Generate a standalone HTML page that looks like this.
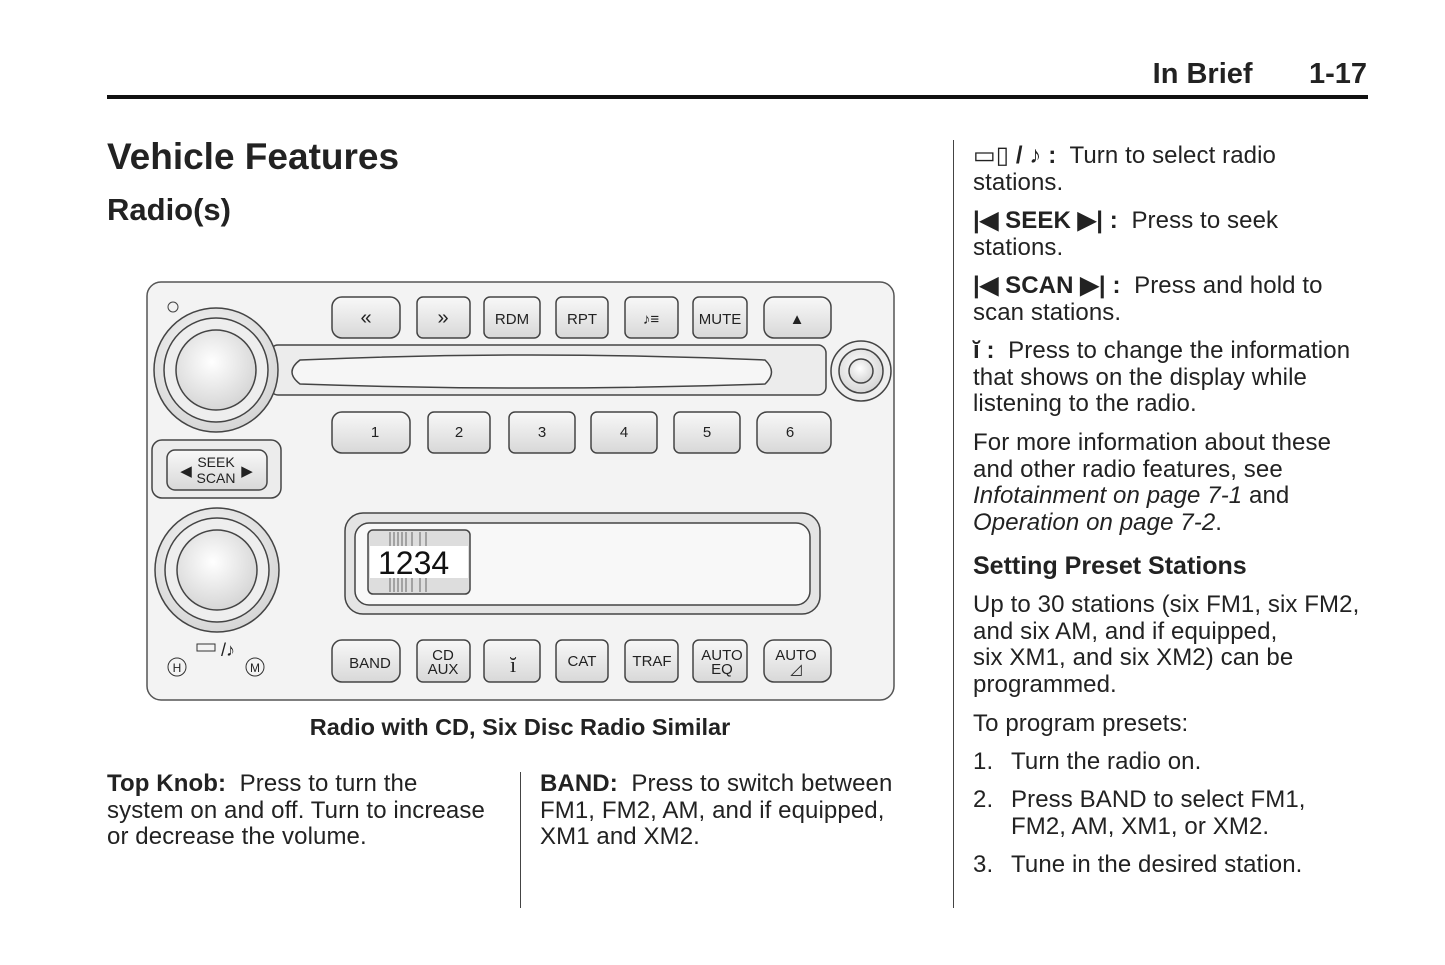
<!DOCTYPE html><html><head><style>
body{margin:0;width:1445px;height:965px;background:#fff;position:relative;font-family:"Liberation Sans",sans-serif;color:#222;overflow:hidden}
.a{position:absolute;white-space:nowrap}
.t{font-size:24px;line-height:26.6px;letter-spacing:0.1px}
b{font-weight:bold}
.n{display:inline-block;width:38px}
</style></head><body>
<div class="a" style="right:78px;top:58px;font-size:29px;font-weight:bold">In Brief&nbsp;&nbsp;&nbsp;&nbsp;&nbsp;&nbsp;&nbsp;1-17</div>
<div class="a" style="left:107px;top:95px;width:1261px;height:4px;background:#111"></div>
<div class="a" style="left:107px;top:136px;font-size:37px;font-weight:bold">Vehicle Features</div>
<div class="a" style="left:107px;top:192px;font-size:31px;font-weight:bold">Radio(s)</div>
<div class="a" style="left:520px;top:772px;width:1px;height:136px;background:#444"></div>
<div class="a" style="left:953px;top:140px;width:1px;height:768px;background:#444"></div>

<svg class="a" style="left:0;top:0" width="1445" height="965" font-family="Liberation Sans Narrow, Liberation Sans, sans-serif">
<defs><linearGradient id="g" x1="0" y1="0" x2="0" y2="1"><stop offset="0" stop-color="#f8f8f8"/><stop offset="1" stop-color="#d8d8d8"/></linearGradient>
<radialGradient id="k" cx="0.45" cy="0.4" r="0.6"><stop offset="0" stop-color="#fff"/><stop offset="1" stop-color="#d6d6d6"/></radialGradient></defs>
<rect x="147" y="282" width="747" height="418" rx="14" fill="#f3f3f3" stroke="#555" stroke-width="1.5"/>
<circle cx="173" cy="307" r="5" fill="none" stroke="#444"/>
<g fill="url(#g)" stroke="#444" stroke-width="1.5">
<rect x="332" y="297" width="68" height="41" rx="10"/><rect x="417" y="297" width="53" height="41" rx="6"/><rect x="484" y="297" width="56" height="41" rx="6"/><rect x="556" y="297" width="52" height="41" rx="6"/><rect x="625" y="297" width="53" height="41" rx="6"/><rect x="693" y="297" width="54" height="41" rx="6"/><rect x="764" y="297" width="67" height="41" rx="10"/>
<rect x="332" y="412" width="78" height="41" rx="10"/><rect x="428" y="412" width="62" height="41" rx="6"/><rect x="509" y="412" width="66" height="41" rx="6"/><rect x="591" y="412" width="66" height="41" rx="6"/><rect x="674" y="412" width="66" height="41" rx="6"/><rect x="757" y="412" width="74" height="41" rx="10"/>
<rect x="332" y="640" width="68" height="42" rx="10"/><rect x="417" y="640" width="53" height="42" rx="6"/><rect x="484" y="640" width="56" height="42" rx="6"/><rect x="556" y="640" width="52" height="42" rx="6"/><rect x="625" y="640" width="53" height="42" rx="6"/><rect x="693" y="640" width="54" height="42" rx="6"/><rect x="764" y="640" width="67" height="42" rx="10"/>
<rect x="270" y="345" width="556" height="50" rx="8" fill="#ececec"/>
<path d="M300 360 Q530 350 765 360 Q778 372 765 384 Q530 392 300 384 Q284 372 300 360Z" fill="#f6f6f6"/>
<rect x="152" y="440" width="129" height="58" rx="10" fill="#ececec"/><rect x="167" y="450" width="100" height="40" rx="8"/>
<rect x="345" y="513" width="475" height="101" rx="18" fill="#e4e4e4"/><rect x="355" y="523" width="455" height="82" rx="14" fill="#f8f8f8"/>
<rect x="368" y="530" width="102" height="64" rx="5" fill="#ddd"/>
</g>
<rect x="370" y="546" width="98" height="32" fill="#fff"/>
<g stroke="#666" stroke-width="1"><path d="M390 532v14M394 532v14M398 532v14M402 532v14M406 532v14M412 532v14M420 532v14M426 532v14M390 578v14M394 578v14M398 578v14M402 578v14M406 578v14M412 578v14M420 578v14M426 578v14"/></g>
<g fill="url(#k)" stroke="#444" stroke-width="1.5">
<circle cx="216" cy="370" r="62"/><circle cx="216" cy="370" r="52" fill="#eee"/><circle cx="216" cy="370" r="40"/>
<circle cx="217" cy="570" r="62"/><circle cx="217" cy="570" r="52" fill="#eee"/><circle cx="217" cy="570" r="40"/>
<circle cx="861" cy="371" r="30" fill="#eee"/><circle cx="861" cy="371" r="22"/><circle cx="861" cy="371" r="12"/>
</g>
<g fill="none" stroke="#333"><circle cx="177" cy="667" r="9"/><circle cx="255" cy="667" r="9"/><rect x="197" y="644" width="18" height="7"/></g>
<g font-size="15" text-anchor="middle" fill="#222">
<text x="366" y="324" font-size="20">«</text><text x="443" y="324" font-size="20">»</text><text x="512" y="324">RDM</text><text x="582" y="324">RPT</text><text x="651" y="324">♪≡</text><text x="720" y="324">MUTE</text><text x="797" y="324">▲</text>
<text x="375" y="437">1</text><text x="459" y="437">2</text><text x="542" y="437">3</text><text x="624" y="437">4</text><text x="707" y="437">5</text><text x="790" y="437">6</text>
<text x="370" y="668">BAND</text><text x="443" y="660">CD</text><text x="443" y="674">AUX</text><text x="513" y="672" font-size="22" font-family="Liberation Serif">ĭ</text><text x="582" y="666">CAT</text><text x="652" y="666">TRAF</text><text x="722" y="660">AUTO</text><text x="722" y="674">EQ</text><text x="796" y="660">AUTO</text><text x="796" y="674">◿</text>
<text x="216" y="467" font-size="14">SEEK</text><text x="216" y="483" font-size="14">SCAN</text><text x="186" y="476">◀</text><text x="247" y="476">▶</text>
<text x="177" y="672" font-size="12">H</text><text x="255" y="672" font-size="12">M</text><text x="228" y="656" font-size="18">/♪</text>
</g>
<text x="378" y="574" font-size="32" fill="#111" font-family="Liberation Sans">1234</text>
</svg>

<div class="a" style="left:0;width:1040px;top:714px;text-align:center;font-size:23.5px;font-weight:bold">Radio with CD, Six Disc Radio Similar</div>
<div class="a t" style="left:107px;top:771px"><b>Top Knob:</b>&nbsp; Press to turn the<br>system on and off. Turn to increase<br>or decrease the volume.</div>
<div class="a t" style="left:540px;top:771px"><b>BAND:</b>&nbsp; Press to switch between<br>FM1, FM2, AM, and if equipped,<br>XM1 and XM2.</div>
<div class="a t" style="left:973px;top:143px">▭▯ <b>/ ♪ :</b>&nbsp; Turn to select radio<br>stations.</div>
<div class="a t" style="left:973px;top:208px"><b>|◀ SEEK ▶| :</b>&nbsp; Press to seek<br>stations.</div>
<div class="a t" style="left:973px;top:273px"><b>|◀ SCAN ▶| :</b>&nbsp; Press and hold to<br>scan stations.</div>
<div class="a t" style="left:973px;top:338px"><b>ĭ :</b>&nbsp; Press to change the information<br>that shows on the display while<br>listening to the radio.</div>
<div class="a t" style="left:973px;top:430px">For more information about these<br>and other radio features, see<br><i>Infotainment on page 7-1</i> and<br><i>Operation on page 7-2</i>.</div>
<div class="a" style="left:973px;top:552px;font-size:25px;font-weight:bold">Setting Preset Stations</div>
<div class="a t" style="left:973px;top:592px">Up to 30 stations (six FM1, six FM2,<br>and six AM, and if equipped,<br>six XM1, and six XM2) can be<br>programmed.</div>
<div class="a t" style="left:973px;top:711px">To program presets:</div>
<div class="a t" style="left:973px;top:749px"><span class="n">1.</span>Turn the radio on.</div>
<div class="a t" style="left:973px;top:787px"><span class="n">2.</span>Press BAND to select FM1,<br><span class="n"></span>FM2, AM, XM1, or XM2.</div>
<div class="a t" style="left:973px;top:852px"><span class="n">3.</span>Tune in the desired station.</div>
</body></html>
